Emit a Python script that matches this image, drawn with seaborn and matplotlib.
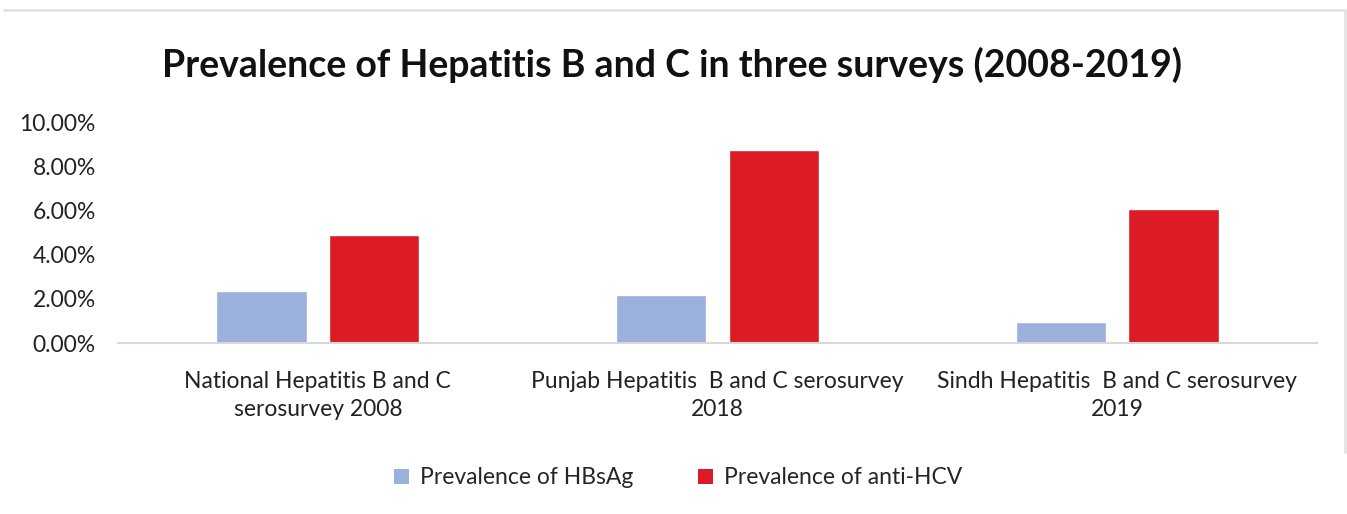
import matplotlib
matplotlib.use("Agg")
import matplotlib.pyplot as plt
import seaborn as sns
import pandas as pd
from matplotlib.lines import Line2D
from matplotlib.patches import Patch

categories = ["National Hepatitis B and C\nserosurvey 2008",
              "Punjab Hepatitis  B and C serosurvey\n2018",
              "Sindh Hepatitis  B and C serosurvey\n2019"]
series_names = ["Prevalence of HBsAg", "Prevalence of anti-HCV"]
hbsag = [2.36, 2.17, 0.97]
anti_hcv = [4.92, 8.75, 6.08]
colors = ["#9BB1DB", "#DC1B26"]
yticks = [0, 2, 4, 6, 8, 10]

df = pd.DataFrame({
    "cat": categories * 2,
    "series": [series_names[0]] * 3 + [series_names[1]] * 3,
    "val": hbsag + anti_hcv,
})

sns.set_theme(style="white")
plt.rcParams['font.family'] = ['Lato', 'DejaVu Sans']

fig = plt.figure(figsize=(13.47, 5.14), dpi=100)
ax = fig.add_axes([118/1347, 1-343/514, (1317-118)/1347, (343-122.5)/514])
sns.barplot(data=df, x="cat", y="val", hue="series", palette=colors,
            width=0.565, gap=0.2, ax=ax, legend=False, saturation=1)
ax.set_ylim(0, 10)
ax.set_xlim(-0.5, 2.5)
ax.set_yticks(yticks)
ax.set_yticklabels([f"{v:.2f}%" for v in yticks], fontsize=16.5, color="#222222")
ax.tick_params(axis="y", pad=16, length=0)
ax.tick_params(axis="x", pad=20, length=0, labelsize=16.5, labelcolor="#222222")
for lbl in ax.get_xticklabels():
    lbl.set_linespacing(1.45)
ax.set_xlabel("")
ax.set_ylabel("")
for s in ["top", "right", "left"]:
    ax.spines[s].set_visible(False)
ax.spines["bottom"].set_color("#d9d9d9")
ax.spines["bottom"].set_linewidth(1.5)
ax.grid(False)

fig.text(672/1347, 1-65/514, "Prevalence of Hepatitis B and C in three surveys (2008-2019)",
         ha="center", va="center", fontsize=27, fontweight="bold", color="#111111")

handles = [Patch(facecolor=c, edgecolor="none") for c in colors]
fig.legend(handles, series_names, loc="center", bbox_to_anchor=(678/1347, 1-478/514),
           ncol=2, frameon=False, fontsize=16.5, handlelength=0.65, handleheight=0.65,
           columnspacing=2.8, handletextpad=0.5)

# chart border (light grey)
fig.add_artist(Line2D([4/1347, 1345/1347], [1-10/514, 1-10/514], color="#e3e3e3", lw=2))
fig.add_artist(Line2D([1345/1347, 1345/1347], [1-10/514, 1-452/514], color="#e3e3e3", lw=2))

fig.savefig("out.png", dpi=100, facecolor="white")
